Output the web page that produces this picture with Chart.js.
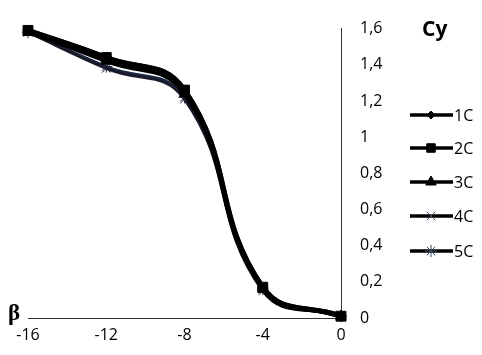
<!DOCTYPE html>
<html>
<head>
<meta charset="utf-8">
<script src="https://cdn.jsdelivr.net/npm/chart.js@4.4.1/dist/chart.umd.min.js"></script>
<style>
  html, body { margin: 0; padding: 0; background: #fff; }
  #wrap { position: relative; width: 482px; height: 355px; }
  #titre-cy { position: absolute; left: 422px; top: 14px; font: bold 21px "Open Sans", sans-serif; color: #000; }
  #titre-beta { position: absolute; left: 8px; top: 300px; font: bold 23px "Liberation Serif", serif; color: #000; }
</style>
</head>
<body>
<div id="wrap">
  <canvas id="grafico" width="482" height="355"></canvas>
  <div id="titre-cy">Cy</div>
  <div id="titre-beta">β</div>
</div>
<script>
const beta = [-16, -12, -8, -4, 0];
const serie1C = [1.59, 1.44, 1.26, 0.17, 0.01];
const serie2C = [1.59, 1.44, 1.26, 0.17, 0.01];
const serie3C = [1.58, 1.42, 1.24, 0.16, 0.01];
const serie4C = [1.58, 1.38, 1.21, 0.15, 0.01];
const serie5C = [1.58, 1.39, 1.22, 0.16, 0.01];
const nomes = ["1C", "2C", "3C", "4C", "5C"];
const yTicks = [0, 0.2, 0.4, 0.6, 0.8, 1, 1.2, 1.4, 1.6];

const estilos = [
  { pt: "rectRot", r: 5, cor: "#000", largura: 5 },
  { pt: "rect", r: 7, cor: "#000", largura: 5 },
  { pt: "triangle", r: 6, cor: "#000", largura: 4 },
  { pt: "crossRot", r: 6, cor: "#1a1a2a", largura: 3 },
  { pt: "star", r: 6, cor: "#1c2a44", largura: 3 }
];
const series = [serie1C, serie2C, serie3C, serie4C, serie5C];

const fmt = v => Number(v.toFixed(1)).toString().replace(".", ",");

// legenda desenhada à mão: linha + marcador + texto
const legendaPlugin = {
  id: "legendaLinha",
  afterDraw(chart) {
    const ctx = chart.ctx;
    const ys = [115, 148, 182, 216, 251];
    ctx.save();
    nomes.forEach((nome, i) => {
      const e = estilos[i];
      ctx.strokeStyle = "#000";
      ctx.lineWidth = 3.5;
      ctx.beginPath();
      ctx.moveTo(410, ys[i]);
      ctx.lineTo(453, ys[i]);
      ctx.stroke();
      ctx.fillStyle = e.cor;
      ctx.strokeStyle = i >= 3 ? "#3a4a66" : "#000";
      ctx.lineWidth = 1;
      Chart.helpers.drawPoint(ctx, { pointStyle: e.pt, radius: i === 0 ? 4 : 6, rotation: 0, borderWidth: 1 }, 431, ys[i]);
      ctx.fillStyle = "#000";
      ctx.font = '16px "Open Sans", sans-serif';
      ctx.textBaseline = "middle";
      ctx.textAlign = "left";
      ctx.fillText(nome, 454, ys[i] + 1);
    });
    ctx.restore();
  }
};

new Chart(document.getElementById("grafico"), {
  type: "line",
  data: {
    datasets: series.map((s, i) => ({
      label: nomes[i],
      data: s.map((v, k) => ({ x: beta[k], y: v })),
      borderColor: estilos[i].cor,
      backgroundColor: estilos[i].cor,
      borderWidth: estilos[i].largura,
      pointStyle: estilos[i].pt,
      pointRadius: estilos[i].r,
      pointBorderWidth: 1,
      pointBorderColor: estilos[i].cor,
      tension: 0.45,
      clip: false,
      fill: false
    }))
  },
  options: {
    responsive: false,
    animation: false,
    layout: { padding: { left: 28, top: 17, right: 0, bottom: 0 } },
    plugins: { legend: { display: false }, tooltip: { enabled: false } },
    scales: {
      x: {
        type: "linear",
        min: -16,
        max: 0,
        afterBuildTicks: axis => { axis.ticks = beta.map(v => ({ value: v })); },
        afterFit: scale => { scale.height = 37; },
        grid: { display: false, drawTicks: false },
        border: { display: true, color: "#333", width: 1 },
        ticks: { color: "#000", padding: 8, maxRotation: 0, font: { family: "Open Sans", size: 16 } }
      },
      y: {
        position: "right",
        min: 0,
        max: 1.6,
        afterBuildTicks: axis => { axis.ticks = yTicks.map(v => ({ value: v })); },
        afterFit: scale => { scale.width = 141; },
        grid: { display: false, drawTicks: false },
        border: { display: true, color: "#333", width: 1 },
        ticks: { color: "#000", padding: 19, callback: v => fmt(v), font: { family: "Open Sans", size: 16 } }
      }
    }
  },
  plugins: [legendaPlugin]
});
</script>
</body>
</html>
